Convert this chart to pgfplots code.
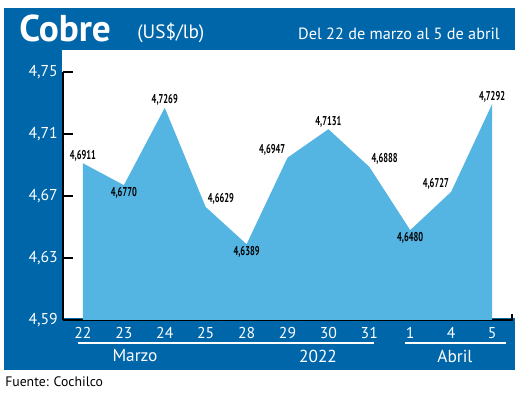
\documentclass[border=0pt]{standalone}
\usepackage{pgfplots}
\pgfplotsset{compat=1.18}
\usepackage{pgfplotstable}
\usepackage{fontspec}
\setmainfont{PT Sans}
\newfontfamily\lblfont[FakeStretch=0.66]{PT Sans}
\definecolor{dblue}{RGB}{0,102,170}
\definecolor{lblue}{RGB}{84,180,226}

\pgfplotstableread{
x y
0 4.6911
1 4.6770
2 4.7269
3 4.6629
4 4.6389
5 4.6947
6 4.7131
7 4.6888
8 4.6480
9 4.6727
10 4.7292
}\cobre

\begin{document}
\begin{tikzpicture}[x=0.75pt,y=0.75pt]
\useasboundingbox (0,0) rectangle (520,392);
\fill[dblue] (4,22) rectangle (515,384);
\fill[white] (62,74) rectangle (520,342);
\begin{axis}[
  at={(46.875pt,54pt)}, anchor=south west,
  scale only axis, width=337.5pt, height=186pt,
  xmin=-0.5, xmax=10.5, ymin=4.59, ymax=4.75,
  axis x line*=bottom, axis y line*=left,
  axis line style={line width=1.5pt, black},
  tick align=inside,
  xtick={0,...,10},
  xticklabels={22,23,24,25,28,29,30,31,1,4,5},
  ytick={4.59,4.63,4.67,4.71,4.75},
  yticklabels={{4,59},{4,63},{4,67},{4,71},{4,75}},
  major tick length=7.5pt,
  ytick style={line width=1.5pt, black},
  xtick style={draw=none},
  yticklabel style={white, font=\fontsize{11.8}{13}\selectfont},
  xticklabel style={white, font=\fontsize{11.8}{13}\selectfont, yshift=-2pt},
  lbl/.style={draw=none, mark=none, point meta=explicit symbolic,
     nodes near coords,
     every node near coord/.append style={anchor=#1, inner sep=1.5pt,
     font=\lblfont\bfseries\fontsize{9.6}{11}\selectfont, text=black}},
]
\addplot[draw=none, fill=lblue] table[x=x, y=y] {\cobre} \closedcycle;
\addplot[lbl=south] coordinates {(0,4.6911)[4,6911] (2,4.7269)[4,7269] (6,4.7131)[4,7131] (10,4.7292)[4,7292]};
\addplot[lbl=north] coordinates {(1,4.6770)[4,6770] (4,4.6389)[4,6389] (8,4.6480)[4,6480]};
\addplot[lbl=south west] coordinates {(3,4.6629)[4,6629] (7,4.6888)[4,6888]};
\addplot[lbl=south east] coordinates {(5,4.6947)[4,6947] (9,4.6727)[4,6727]};
\end{axis}
\draw[line width=1.5pt] (512,71.5) -- (512,78);
% group labels
\draw[white, line width=1.1pt] (78,49) -- (374,49);
\draw[white, line width=1.1pt] (405,49) -- (506,49);
\node[white, font=\fontsize{13}{15}\selectfont] at (135,36) {Marzo};
\node[white, font=\fontsize{13}{15}\selectfont] at (318,36) {2022};
\node[white, font=\fontsize{13}{15}\selectfont] at (455,36) {Abril};
% header
\node[white, anchor=base west, inner sep=0pt, font=\bfseries\fontsize{28}{30}\selectfont] at (19,350) {Cobre};
\node[white, anchor=base west, inner sep=0pt, font=\fontsize{14.5}{16}\selectfont] at (137,353) {(US\$/lb)};
\node[white, anchor=base east, inner sep=0pt, font=\fontsize{12.2}{15}\selectfont] at (500,352) {Del 22 de marzo al 5 de abril};
\node[black, anchor=base west, inner sep=0pt, font=\fontsize{10.3}{12}\selectfont] at (5,6) {Fuente: Cochilco};
\end{tikzpicture}
\end{document}
